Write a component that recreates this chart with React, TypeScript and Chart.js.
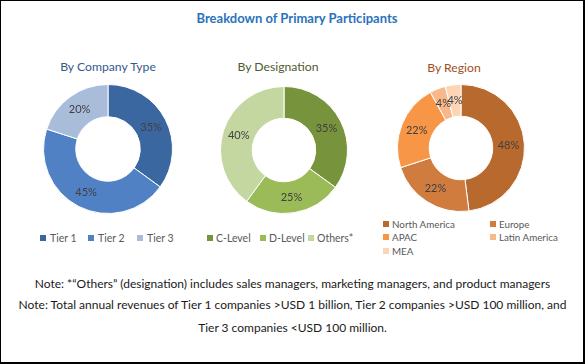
import React, { useEffect, useRef } from "react";
import { Chart, registerables } from "chart.js";

Chart.register(...registerables);

// ---------- data ----------
const mainTitle = "Breakdown of Primary Participants";

const companyTitle = "By Company Type";
const companyLabels = ["Tier 1", "Tier 2", "Tier 3"];
const companyValues = [35, 45, 20];
const companyColors = ["#3b67a1", "#4f81c4", "#a9bcda"];

const designationTitle = "By Designation";
const designationLabels = ["C-Level", "D-Level", "Others*"];
const designationValues = [35, 25, 40];
const designationColors = ["#77933c", "#9bbb59", "#c4d7a0"];

const regionTitle = "By Region";
const regionLabels = ["North America", "Europe", "APAC", "Latin America", "MEA"];
const regionValues = [48, 22, 22, 4, 4];
const regionColors = ["#b8692e", "#d07c3e", "#f79646", "#f8b88c", "#fcd5b5"];

const notes = [
  "Note: *\u201cOthers\u201d (designation) includes sales managers, marketing managers, and product managers",
  "Note: Total annual revenues of Tier 1 companies >USD 1 billion, Tier 2 companies >USD 100 million, and",
  "Tier 3 companies <USD 100 million.",
];

// ---------- styles ----------
const FONT = "Lato, 'Open Sans', sans-serif";

const pctLabelPlugin = {
  id: "pctLabels",
  afterDatasetsDraw(chart: any) {
    const ctx = chart.ctx;
    const meta = chart.getDatasetMeta(0);
    const ds = chart.data.datasets[0];
    ctx.save();
    ctx.font = "11px Lato";
    ctx.fillStyle = "#404040";
    ctx.textAlign = "center";
    ctx.textBaseline = "middle";
    meta.data.forEach((arc: any, i: number) => {
      const p = arc.getProps(["x", "y", "startAngle", "endAngle", "innerRadius", "outerRadius"], true);
      const a = (p.startAngle + p.endAngle) / 2;
      const r = (p.innerRadius + p.outerRadius) / 2;
      ctx.fillText(ds.data[i] + "%", p.x + Math.cos(a) * r, p.y + Math.sin(a) * r);
    });
    ctx.restore();
  },
};

function Donut(props: { labels: string[]; values: number[]; colors: string[]; cx: number; cy: number; size: number }) {
  const ref = useRef<HTMLCanvasElement | null>(null);
  useEffect(() => {
    if (!ref.current) return;
    const chart = new Chart(ref.current, {
      type: "doughnut",
      data: {
        labels: props.labels,
        datasets: [
          {
            data: props.values,
            backgroundColor: props.colors,
            borderColor: "#ffffff",
            borderWidth: 1,
          },
        ],
      },
      options: {
        responsive: false,
        animation: false,
        cutout: "50%",
        layout: { padding: 0 },
        plugins: { legend: { display: false }, tooltip: { enabled: false }, title: { display: false } },
      },
      plugins: [pctLabelPlugin],
    });
    return () => chart.destroy();
  }, []);
  const s = props.size;
  return (
    <canvas
      ref={ref}
      width={s}
      height={s}
      style={{ position: "absolute", left: props.cx - s / 2, top: props.cy - s / 2, width: s, height: s }}
    />
  );
}

function LegendItem(props: { label: string; color: string; x: number; y: number; size: number; gap: number }) {
  return (
    <div
      style={{
        position: "absolute",
        left: props.x,
        top: props.y - 7,
        height: 14,
        display: "flex",
        alignItems: "center",
        whiteSpace: "nowrap",
        font: `${props.size}px ${FONT}`,
        color: "#595959",
      }}
    >
      <span style={{ display: "inline-block", width: 6, height: 6, background: props.color, marginRight: props.gap }} />
      {props.label}
    </div>
  );
}

function Title(props: { text: string; cx: number; cy: number; color: string; size: number; bold?: boolean }) {
  return (
    <div
      style={{
        position: "absolute",
        left: props.cx - 150,
        width: 300,
        top: props.cy - 10,
        height: 20,
        lineHeight: "20px",
        textAlign: "center",
        font: `${props.bold ? "bold " : ""}${props.size}px ${FONT}`,
        color: props.color,
        whiteSpace: "nowrap",
      }}
    >
      {props.text}
    </div>
  );
}

export default function App() {
  const companyLegendX = [40, 88, 137];
  const designationLegendX = [207, 260, 308];
  const regionLegendPos = [
    [383, 224],
    [490, 224],
    [383, 237],
    [490, 237],
    [383, 251],
  ];
  const noteY = [285, 306, 329];
  return (
    <div
      style={{
        position: "absolute",
        left: 0,
        top: 0,
        width: 585,
        height: 364,
        boxSizing: "border-box",
        borderStyle: "solid",
        borderColor: "#000",
        borderWidth: "1px 2px 2px 1px",
        background: "#fff",
        overflow: "hidden",
      }}
    >
      <div style={{ position: "absolute", left: -1, top: -1, width: 585, height: 364 }}>
        <Title text={mainTitle} cx={297} cy={20} color="#2a73bb" size={13} bold />
        <Title text={companyTitle} cx={108} cy={69} color="#35598a" size={12.2} />
        <Title text={designationTitle} cx={278} cy={69} color="#4f5a2c" size={12.2} />
        <Title text={regionTitle} cx={454} cy={70} color="#9e4f22" size={12.2} />

        <Donut labels={companyLabels} values={companyValues} colors={companyColors} cx={108} cy={149} size={130} />
        <Donut labels={designationLabels} values={designationValues} colors={designationColors} cx={284} cy={150} size={128} />
        <Donut labels={regionLabels} values={regionValues} colors={regionColors} cx={461} cy={148} size={128} />

        {companyLabels.map((l, i) => (
          <LegendItem key={l} label={l} color={companyColors[i]} x={companyLegendX[i]} y={238} size={10.5} gap={4} />
        ))}
        {designationLabels.map((l, i) => (
          <LegendItem key={l} label={l} color={designationColors[i]} x={designationLegendX[i]} y={238} size={10.5} gap={3} />
        ))}
        {regionLabels.map((l, i) => (
          <LegendItem key={l} label={l} color={regionColors[i]} x={regionLegendPos[i][0]} y={regionLegendPos[i][1]} size={9.8} gap={3} />
        ))}

        {notes.map((n, i) => (
          <div
            key={i}
            style={{
              position: "absolute",
              left: 0,
              width: 585,
              top: noteY[i] - 9,
              height: 18,
              lineHeight: "18px",
              textAlign: "center",
              font: `12px ${FONT}`,
              color: "#1a1a1a",
              whiteSpace: "nowrap",
            }}
          >
            {n}
          </div>
        ))}
      </div>
    </div>
  );
}
